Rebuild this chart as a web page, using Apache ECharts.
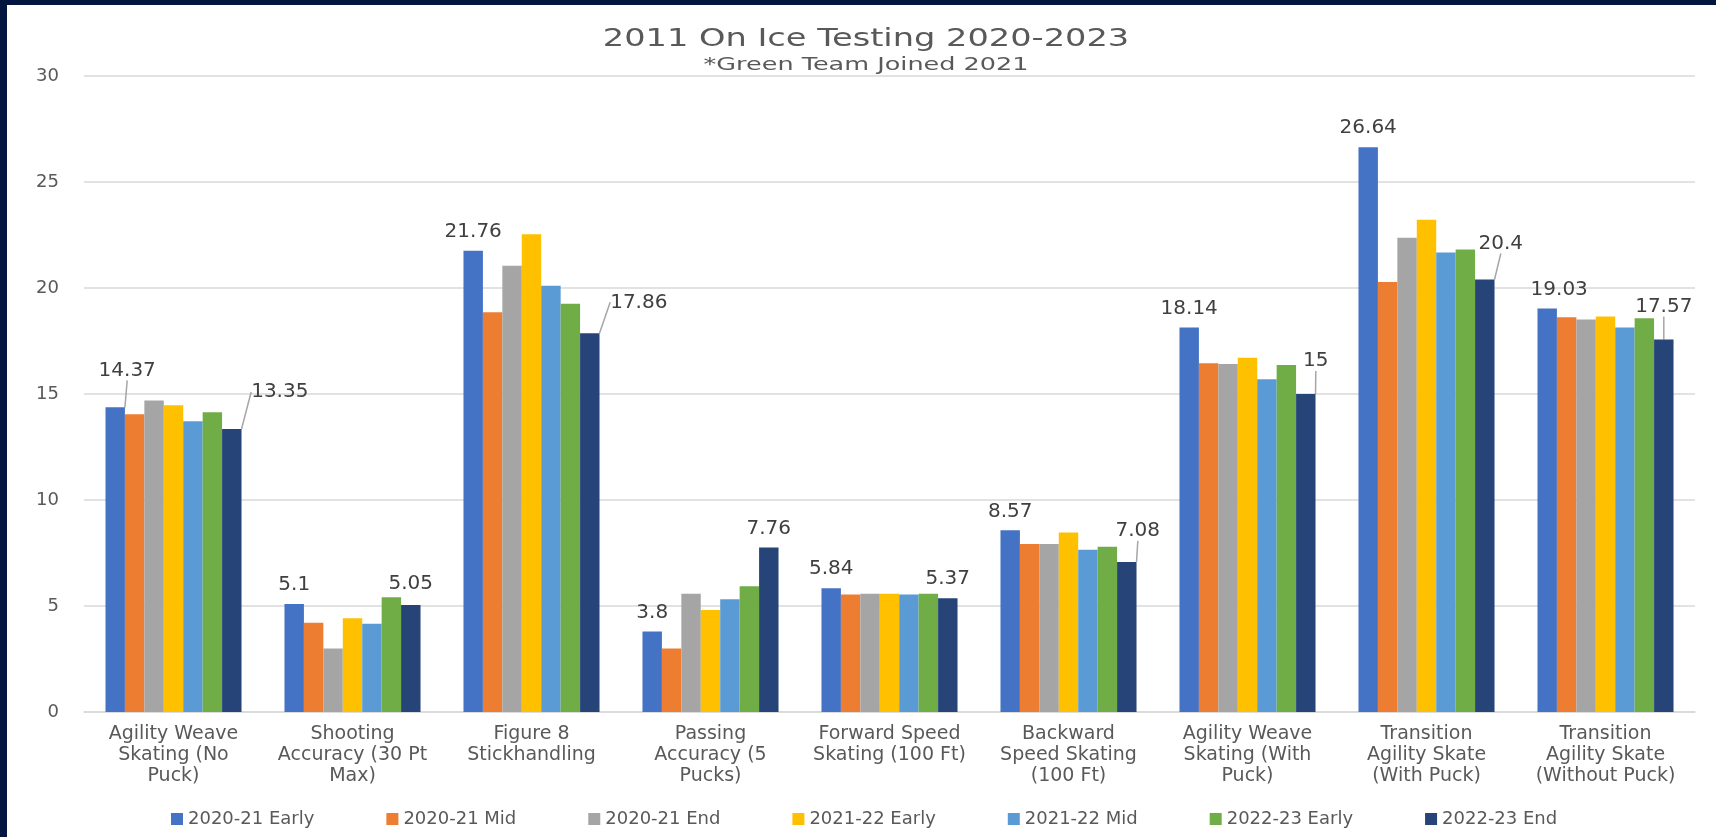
<!DOCTYPE html>
<html>
<head>
<meta charset="utf-8">
<script src="https://cdn.jsdelivr.net/npm/echarts@6/dist/echarts.min.js"></script>
<style>
html,body{margin:0;padding:0;background:#fff;}
#chart{width:1716px;height:837px;}
</style>
</head>
<body>
<div id="chart"></div>
<script>
const categories = [
  'Agility Weave\nSkating (No\nPuck)',
  'Shooting\nAccuracy (30 Pt\nMax)',
  'Figure 8\nStickhandling',
  'Passing\nAccuracy (5\nPucks)',
  'Forward Speed\nSkating (100 Ft)',
  'Backward\nSpeed Skating\n(100 Ft)',
  'Agility Weave\nSkating (With\nPuck)',
  'Transition\nAgility Skate\n(With Puck)',
  'Transition\nAgility Skate\n(Without Puck)'
];
const seriesNames = ['2020-21 Early','2020-21 Mid','2020-21 End','2021-22 Early','2021-22 Mid','2022-23 Early','2022-23 End'];
const early2021 = [14.37, 5.1, 21.76, 3.8, 5.84, 8.57, 18.14, 26.64, 19.03];
const mid2021   = [14.05, 4.21, 18.86, 3.0, 5.54, 7.92, 16.45, 20.28, 18.62];
const end2021   = [14.69, 3.0, 21.05, 5.58, 5.58, 7.92, 16.42, 22.37, 18.52];
const early2122 = [14.47, 4.42, 22.53, 4.81, 5.58, 8.47, 16.71, 23.22, 18.65];
const mid2122   = [13.72, 4.16, 20.11, 5.32, 5.54, 7.65, 15.69, 21.67, 18.14];
const early2223 = [14.14, 5.41, 19.26, 5.93, 5.58, 7.79, 16.37, 21.82, 18.57];
const end2223   = [13.35, 5.05, 17.86, 7.76, 5.37, 7.08, 15, 20.4, 17.57];
const yTicks = [0, 5, 10, 15, 20, 25, 30];

const colors = ['#4472C4','#ED7D31','#A5A5A5','#FFC000','#5B9BD5','#70AD47','#264478'];
const seriesValues = [early2021, mid2021, end2021, early2122, mid2122, early2223, end2223];

// label placement (layout only, not data)
const shiftFirst = [[12,-18],[0,0],[0,0],[0,0],[0,0],[0,0],[0,0],[0,0],[12,0]];
const shiftLast  = [[48,-18],[0,-2],[49,-12],[0,0],[0,0],[11,-12],[10,-14],[16,-17],[0,-14]];
const leaderFirst = [true,false,false,false,false,false,false,false,false];
const leaderLast  = [true,false,true,false,false,true,true,true,true];

const FONT = 'DejaVu Sans';
const TXT = '#595959';

function makeSeries(i) {
  const labeled = (i === 0 || i === 6);
  const shifts = i === 0 ? shiftFirst : shiftLast;
  const leaders = i === 0 ? leaderFirst : leaderLast;
  const s = {
    name: seriesNames[i],
    type: 'bar',
    barGap: '0%',
    barCategoryGap: '24%',
    itemStyle: { color: colors[i] },
    data: seriesValues[i].map((v, k) => labeled ? { value: v, labelLine: { show: leaders[k] } } : v),
    animation: false
  };
  if (labeled) {
    s.label = {
      show: true, position: 'top', distance: 9,
      fontFamily: FONT, fontSize: 20, color: '#404040',
      formatter: p => String(p.value)
    };
    s.labelLine = { show: false, lineStyle: { color: '#a6a6a6', width: 1.5 } };
    s.labelLayout = function (params) {
      const d = shifts[params.dataIndex];
      return { dx: d[0], dy: d[1] };
    };
  }
  return s;
}

const chart = echarts.init(document.getElementById('chart'), null, { renderer: 'canvas' });
chart.setOption({
  backgroundColor: '#ffffff',
  animation: false,
  grid: { left: 84, right: 21, top: 76, bottom: 125, containLabel: false },
  graphic: [
    { type: 'rect', left: 0, top: 0, shape: { width: 7, height: 837 }, style: { fill: '#021640' }, z: 100 },
    { type: 'rect', left: 0, top: 0, shape: { width: 1716, height: 5 }, style: { fill: '#021640' }, z: 100 },
    { type: 'text', x: 866, y: 40, scaleX: 1.4,
      style: { text: '2011 On Ice Testing 2020-2023', font: '24px "DejaVu Sans"', fill: TXT, textAlign: 'center', textVerticalAlign: 'middle' } },
    { type: 'text', x: 866, y: 66, scaleX: 1.5,
      style: { text: '*Green Team Joined 2021', font: '17px "DejaVu Sans"', fill: TXT, textAlign: 'center', textVerticalAlign: 'middle' } }
  ],
  legend: {
    data: seriesNames,
    left: 166, top: 805,
    icon: 'rect', itemWidth: 12, itemHeight: 12, itemGap: 72,
    textStyle: { fontFamily: FONT, fontSize: 18, color: TXT }
  },
  xAxis: {
    type: 'category',
    data: categories,
    axisLine: { show: true, lineStyle: { color: '#d9d9d9', width: 1.5 } },
    axisTick: { show: false },
    axisLabel: { interval: 0, margin: 12, fontFamily: FONT, fontSize: 19, lineHeight: 21, color: TXT }
  },
  yAxis: {
    type: 'value',
    min: yTicks[0], max: yTicks[yTicks.length - 1], interval: 5,
    axisLine: { show: false },
    axisTick: { show: false },
    splitLine: { lineStyle: { color: '#d9d9d9', width: 1.5 } },
    axisLabel: { margin: 25, fontFamily: FONT, fontSize: 18, color: TXT }
  },
  series: seriesValues.map((_, i) => makeSeries(i))
});
</script>
</body>
</html>
